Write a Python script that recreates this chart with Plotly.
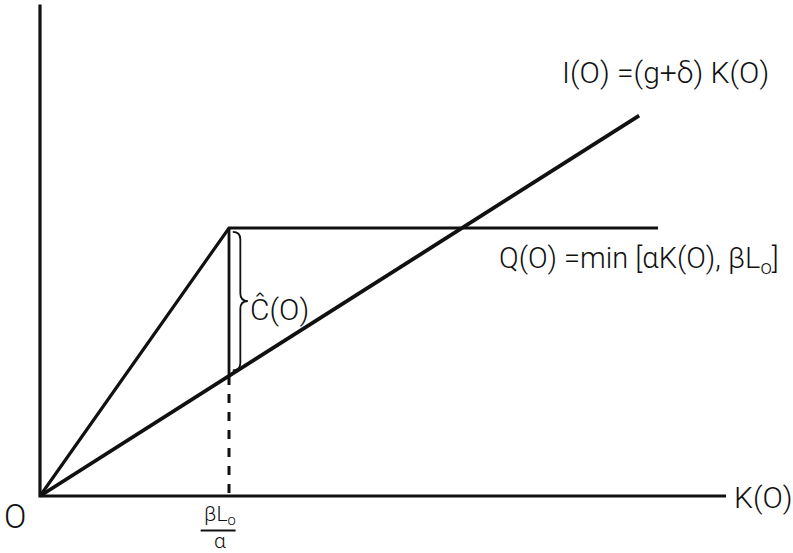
import plotly.graph_objects as go

# ---- data (model units) ----
K_kink = 1.0            # beta*L0/alpha
alpha = 1.418           # slope of Q up to the kink
g_delta = 0.635         # slope of investment line
K_q_end = 3.27          # end of horizontal Q segment
K_i_end = 3.17          # end of investment line
K_axis_end = 3.63
Y_axis_top = 2.6

Q_level = alpha * K_kink
I_kink = g_delta * K_kink

q_x = [0, K_kink, K_q_end]
q_y = [0, Q_level, Q_level]
i_x = [0, K_i_end]
i_y = [0, g_delta * K_i_end]

FONT = "Roboto, DejaVu Sans Condensed, sans-serif"
black = "#111111"

fig = go.Figure()
# axes
fig.add_trace(go.Scatter(x=[0, 0, K_axis_end], y=[Y_axis_top, 0, 0], mode="lines",
                         line=dict(color=black, width=3.2), hoverinfo="skip"))
# Q line
fig.add_trace(go.Scatter(x=q_x, y=q_y, mode="lines",
                         line=dict(color=black, width=3.2), hoverinfo="skip"))
# I line
fig.add_trace(go.Scatter(x=i_x, y=i_y, mode="lines",
                         line=dict(color=black, width=3.8), hoverinfo="skip"))
# vertical solid between Q and I at kink
fig.add_trace(go.Scatter(x=[K_kink, K_kink], y=[Q_level, I_kink], mode="lines",
                         line=dict(color=black, width=2.8), hoverinfo="skip"))
# dashed drop line
fig.add_trace(go.Scatter(x=[K_kink, K_kink], y=[I_kink, 0], mode="lines",
                         line=dict(color=black, width=3, dash="dash"), hoverinfo="skip"))

# brace for C-hat
xb = K_kink + 0.02
w = 0.08
xm = xb + w / 2
xt = xb + w
yt = Q_level - 0.02
yb = I_kink + 0.03
ymid = (yt + yb) / 2
r = 0.04
path = (f"M {xb},{yt} Q {xm},{yt} {xm},{yt - r} L {xm},{ymid + r} "
        f"Q {xm},{ymid} {xt},{ymid} Q {xm},{ymid} {xm},{ymid - r} "
        f"L {xm},{yb + r} Q {xm},{yb} {xb},{yb}")
fig.add_shape(type="path", path=path, line=dict(color=black, width=1.8))

# fraction bar for beta L0 / alpha
fig.add_shape(type="line", x0=K_kink - 0.15, x1=K_kink + 0.035, y0=-0.182, y1=-0.182,
              line=dict(color=black, width=2))

ann = dict(showarrow=False, font=dict(family=FONT, size=30, color=black, weight=300))
fig.add_annotation(x=3.31, y=2.24, text="I(O) =(g+δ) K(O)", **ann)
fig.add_annotation(x=3.17, y=1.25, text="Q(O) =min [αK(O), βL<sub>o</sub>]",
                   showarrow=False, font=dict(family=FONT, size=29, color=black, weight=300))
fig.add_annotation(x=1.1, y=0.985, xanchor="left", text="Ĉ(O)", **ann)
fig.add_annotation(x=3.83, y=-0.01, text="K(O)", **ann)
fig.add_annotation(x=-0.13, y=-0.11, text="O",
                   showarrow=False, font=dict(family=FONT, size=33, color=black, weight=300))
fig.add_annotation(x=K_kink - 0.05, y=-0.165, text="βL<sub>o</sub><br>α",
                   showarrow=False, font=dict(family=FONT, size=21, color=black, weight=300))

fig.update_layout(
    width=793, height=553,
    margin=dict(l=0, r=0, t=0, b=0),
    paper_bgcolor="white", plot_bgcolor="white",
    showlegend=False,
    xaxis=dict(range=[-40 / 189, 753 / 189], visible=False, fixedrange=True),
    yaxis=dict(range=[-57 / 189, 496 / 189], visible=False, fixedrange=True),
)
fig.write_html("out.html", config=dict(displayModeBar=False),
               post_script="document.body.style.margin='0';document.body.style.overflow='hidden';")
